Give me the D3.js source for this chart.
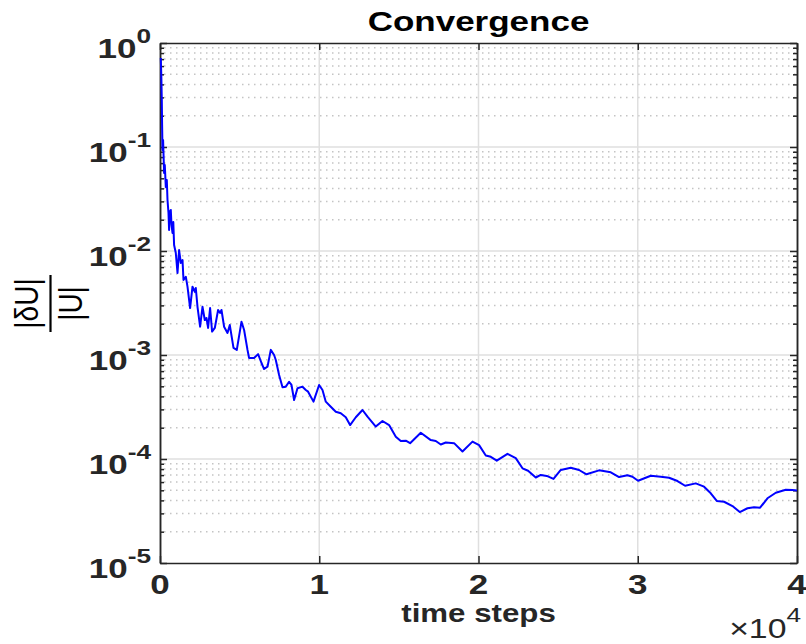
<!DOCTYPE html>
<html>
<head>
<meta charset="utf-8">
<script src="https://cdn.jsdelivr.net/npm/d3@7"></script>
<style>
  html, body { margin: 0; padding: 0; background: #fff; }
  svg { display: block; }
  text { font-family: "Liberation Sans", Arial, Helvetica, sans-serif; fill: #262626; }
</style>
</head>
<body>
<svg id="chart" width="806" height="644"></svg>
<script>
// Relative change of the solution per time step
const steps = [
  0, 31, 63, 82, 107, 144, 207, 251, 314, 377, 421, 483, 521, 565, 628, 672, 735, 785, 835, 942,
  1049, 1149, 1256, 1363, 1425, 1570, 1676, 1840, 1990, 2135, 2198, 2304, 2468, 2618, 2763, 2870,
  2970, 3096, 3221, 3391, 3598, 3723, 3811, 3975, 4188, 4333, 4565, 4772, 5067, 5231, 5444, 5544,
  5858, 6110, 6323, 6486, 6700, 6907, 7114, 7221, 7428, 7642, 7849, 8056, 8207, 8370, 8584, 8897,
  9105, 9249, 9588, 9940, 10153, 10360, 10674, 10988, 11302, 11616, 11886, 12244, 12665, 12979,
  13500, 13921, 14335, 14756, 15070, 15384, 15654, 16325, 16953, 17267, 17581, 17895, 18416,
  18944, 19572, 19986, 20407, 20721, 21097, 21769, 22290, 22711, 23063, 23546, 23860, 24237,
  24658, 25116, 25744, 26265, 26730, 27521, 28256, 28777, 29304, 29618, 29970, 30767, 31395,
  31917, 32444, 32921, 33593, 34114, 34535, 34912, 35370, 35898, 36356, 36840, 37254, 37631,
  38095, 38617, 39245, 39665, 40000
];
const residual = [
  0.718, 0.492, 0.283, 0.163, 0.0936, 0.117, 0.0562, 0.0671, 0.0412, 0.0482, 0.0309, 0.0232,
  0.0159, 0.0237, 0.0248, 0.0178, 0.0149, 0.0190, 0.01142, 0.00957,
  0.00614, 0.01022, 0.00767, 0.00819, 0.00526, 0.00566, 0.00454, 0.00283, 0.00454, 0.00406,
  0.00441, 0.00291, 0.00187, 0.00291, 0.00217, 0.00227,
  0.00182, 0.00283, 0.00168, 0.00182, 0.00271, 0.00254, 0.00271, 0.00187, 0.00163, 0.00194,
  0.00117, 0.00112, 0.00209, 0.00174, 0.00112, 0.000936,
  0.000936, 0.00102, 0.000838, 0.000733, 0.000772, 0.00112, 0.00100, 0.000895, 0.000643,
  0.000489, 0.000496, 0.000553, 0.000515, 0.000369, 0.000479, 0.000496,
  0.000461, 0.000444, 0.000356, 0.000515, 0.000461, 0.000356, 0.000318, 0.000285, 0.000275,
  0.000252, 0.000212, 0.000252, 0.000296, 0.000255,
  0.000205, 0.000232, 0.000212, 0.000164, 0.000149, 0.000150, 0.000142, 0.000179, 0.000152,
  0.000149, 0.000138, 0.000144, 0.000142,
  0.000118, 0.000147, 0.000136, 0.000108, 0.000105, 0.0000963, 0.000112, 0.000102, 0.0000814,
  0.0000771, 0.0000664, 0.0000702, 0.0000687,
  0.0000643, 0.0000784, 0.0000824, 0.0000784, 0.0000713, 0.0000778, 0.0000745, 0.0000671,
  0.0000697, 0.0000676, 0.0000618, 0.0000690, 0.0000676,
  0.0000661, 0.0000614, 0.0000553, 0.0000583, 0.0000542, 0.0000468, 0.0000395, 0.0000388,
  0.0000353, 0.0000309, 0.0000336, 0.0000343, 0.0000340,
  0.0000419, 0.0000474, 0.0000507, 0.0000504, 0.0000496
];

const xTicks = [0, 10000, 20000, 30000, 40000];
const xTickLabels = ["0", "1", "2", "3", "4"];
const yDecades = [1, 1e-1, 1e-2, 1e-3, 1e-4, 1e-5];
const yExponents = ["0", "-1", "-2", "-3", "-4", "-5"];
const titleText = "Convergence";
const xLabelText = "time steps";
const xExponentText = "4";

const svg = d3.select("#chart");
const plot = { left: 160, right: 797, top: 43, bottom: 563 };
const axisColor = "#262626";
const stretch = 1.25;   // wide lettering

const x = d3.scaleLinear().domain([0, 40000]).range([plot.left, plot.right]);
const y = d3.scaleLog().domain([1e-5, 1]).range([plot.bottom, plot.top]);

// minor decades: 2..9 times each power of ten
const minorVals = [];
for (let e = -5; e < 0; e++) for (let m = 2; m <= 9; m++) minorVals.push(m * Math.pow(10, e));

// grid
const grid = svg.append("g");
grid.selectAll("line.minor").data(minorVals).join("line")
  .attr("x1", plot.left + 4).attr("x2", plot.right)
  .attr("y1", d => y(d)).attr("y2", d => y(d))
  .attr("stroke", "#c4c4c4").attr("stroke-width", 1.5)
  .attr("stroke-dasharray", "1.5,4.5");
grid.selectAll("line.majy").data(yDecades.slice(1, -1)).join("line")
  .attr("x1", plot.left).attr("x2", plot.right)
  .attr("y1", d => y(d)).attr("y2", d => y(d))
  .attr("stroke", "#dfdfdf").attr("stroke-width", 1.5);
svg.append("g").selectAll("line").data(xTicks.slice(1, -1)).join("line")
  .attr("x1", d => x(d)).attr("x2", d => x(d))
  .attr("y1", plot.top).attr("y2", plot.bottom)
  .attr("stroke", "#dfdfdf").attr("stroke-width", 1.5);

// axes with inward ticks on all four sides
const axL = d3.axisLeft(y).tickValues(yDecades).tickSizeInner(-7).tickSizeOuter(0).tickFormat("");
const axR = d3.axisRight(y).tickValues(yDecades).tickSizeInner(-7).tickSizeOuter(0).tickFormat("");
const axLm = d3.axisLeft(y).tickValues(minorVals).tickSizeInner(-4).tickSizeOuter(0).tickFormat("");
const axRm = d3.axisRight(y).tickValues(minorVals).tickSizeInner(-4).tickSizeOuter(0).tickFormat("");
const axB = d3.axisBottom(x).tickValues(xTicks).tickSizeInner(-7).tickSizeOuter(0).tickFormat("");
const axT = d3.axisTop(x).tickValues(xTicks).tickSizeInner(-7).tickSizeOuter(0).tickFormat("");

function styleAxis(g) {
  g.selectAll("path,line").attr("stroke", axisColor).attr("stroke-width", 1.5);
}
svg.append("g").attr("transform", `translate(${plot.left},0)`).call(axLm).call(styleAxis);
svg.append("g").attr("transform", `translate(${plot.right},0)`).call(axRm).call(styleAxis);
svg.append("g").attr("transform", `translate(${plot.left},0)`).call(axL).call(styleAxis);
svg.append("g").attr("transform", `translate(${plot.right},0)`).call(axR).call(styleAxis);
svg.append("g").attr("transform", `translate(0,${plot.bottom})`).call(axB).call(styleAxis);
svg.append("g").attr("transform", `translate(0,${plot.top})`).call(axT).call(styleAxis);

// data curve, drawn over the box so the steep start stays visible
svg.append("clipPath").attr("id", "clip").append("rect")
  .attr("x", plot.left - 2).attr("y", plot.top)
  .attr("width", plot.right - plot.left + 2).attr("height", plot.bottom - plot.top);
const pts = steps.map((s, i) => [s, residual[i]]);
svg.append("path").datum(pts)
  .attr("clip-path", "url(#clip)")
  .attr("fill", "none").attr("stroke", "#0000ff").attr("stroke-width", 2)
  .attr("stroke-linejoin", "round")
  .attr("d", d3.line().x(d => x(d[0]) + 0.8).y(d => y(d[1])));

// widened text helper
function wideText(px, py, anchor, size, weight) {
  return svg.append("g")
    .attr("transform", `translate(${px},${py}) scale(${stretch},1)`)
    .append("text")
    .attr("text-anchor", anchor)
    .attr("font-size", size)
    .attr("font-weight", weight);
}

// y tick labels: 10 with superscript exponent
yDecades.forEach((d, i) => {
  const t = wideText(151, y(d) + 15, "end", 28, "bold");
  t.append("tspan").text("10");
  t.append("tspan").attr("font-size", 21).attr("dy", -15).text(yExponents[i]);
});

// x tick labels
xTicks.forEach((d, i) => {
  wideText(x(d), 594, "middle", 28, "bold").text(xTickLabels[i]);
});

// title, x label, exponent of x axis
wideText((plot.left + plot.right) / 2, 31, "middle", 28, "bold").style("fill", "#000").text(titleText);
wideText((plot.left + plot.right) / 2, 622, "middle", 25, "bold").text(xLabelText);
const ex = wideText(801, 638, "end", 27, "normal");
ex.append("tspan").text("\u00d710");
ex.append("tspan").attr("font-size", 21).attr("dy", -16).text(xExponentText);

// y label: |δU| over |U|, turned on its side
const yl = svg.append("g").attr("transform", "translate(50.5,303.5) rotate(-90)");
yl.append("line").attr("x1", -28.5).attr("x2", 28.5).attr("y1", 0).attr("y2", 0)
  .attr("stroke", "#000").attr("stroke-width", 2.2);
yl.append("g").attr("transform", "translate(0,-12.5) scale(1,1.2)")
  .append("text").attr("text-anchor", "middle").attr("font-size", 28).style("fill", "#000")
  .text("|\u03b4U|");
yl.append("g").attr("transform", "translate(0,31) scale(1,1.2)")
  .append("text").attr("text-anchor", "middle").attr("font-size", 28).style("fill", "#000")
  .text("|U|");
</script>
</body>
</html>
